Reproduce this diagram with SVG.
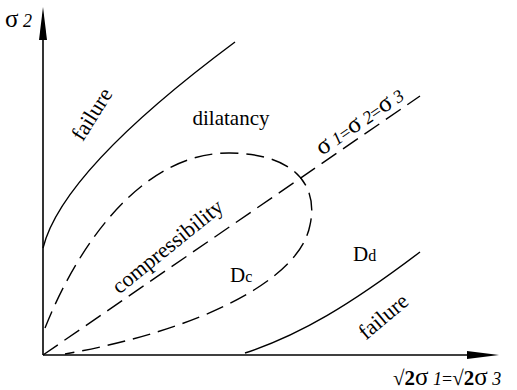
<svg xmlns="http://www.w3.org/2000/svg" width="517" height="390" viewBox="0 0 517 390">
<style>
.ax{stroke:#000;stroke-width:1.6;fill:none}
.cv{stroke:#000;stroke-width:1.4;fill:none}
.ds{stroke:#000;stroke-width:1.4;fill:none;stroke-dasharray:18 8}
.t{font-family:"Liberation Serif","Times New Roman",serif;fill:#000}
.lb{font-size:21px}
.sg{font-size:25px}
.sb{font-size:18px;font-style:italic}
.eq{font-size:18px}
.rt{font-size:21px;font-weight:bold}
</style>
<rect width="517" height="390" fill="#fff"/>
<g id="connectors">
<g id="axes">
<line class="ax" x1="43" y1="355" x2="43" y2="30"/>
<polygon points="43,7 39,40 47,40" fill="#000"/>
<line class="ax" x1="43" y1="355" x2="475" y2="355"/>
<polygon points="499,355 467,351 467,359" fill="#000"/>
</g>
<path id="failure-upper" class="cv" d="M43,248 C55,200 110,135 235,42"/>
<path id="failure-lower" class="cv" d="M245,353 C300,335 350,305 420,252"/>
<path id="hydrostatic" class="ds" d="M43,355 L420,96"/>
<path id="yield-loop" class="ds" d="M45,328 C80,240 145,152 230,153 C300,154 318,190 310,225 C300,280 200,330 65,354"/>
</g>
<g id="label-sigma2"><text class="t" x="5" y="27"><tspan class="sg">σ</tspan><tspan class="sb"> 2</tspan></text></g>
<g id="label-xaxis"><text class="t" x="393" y="385"><tspan class="rt">√2</tspan><tspan class="sg">σ</tspan><tspan class="sb"> 1</tspan><tspan class="eq">=</tspan><tspan class="rt">√2</tspan><tspan class="sg">σ</tspan><tspan class="sb"> 3</tspan></text></g>
<g id="label-diag"><text class="t" transform="translate(322,156) rotate(-34.5)"><tspan class="sg">σ</tspan><tspan class="sb"> 1</tspan><tspan class="eq">=</tspan><tspan class="sg">σ</tspan><tspan class="sb"> 2</tspan><tspan class="eq">=</tspan><tspan class="sg">σ</tspan><tspan class="sb"> 3</tspan></text></g>
<g id="label-failure-upper"><text class="t" font-size="22" text-anchor="middle" transform="translate(98,118) rotate(-58)">failure</text></g>
<g id="label-failure-lower"><text class="t" font-size="22" text-anchor="middle" transform="translate(388,322) rotate(-40)">failure</text></g>
<g id="label-dilatancy"><text class="t lb" x="231" y="125" text-anchor="middle">dilatancy</text></g>
<g id="label-compressibility"><text class="t" font-size="22" text-anchor="middle" transform="translate(172,252) rotate(-39)">compressibility</text></g>
<g id="label-Dc"><text class="t lb" x="230" y="282">D<tspan font-size="16">c</tspan></text></g>
<g id="label-Dd"><text class="t lb" x="353" y="261">D<tspan font-size="16">d</tspan></text></g>
</svg>
